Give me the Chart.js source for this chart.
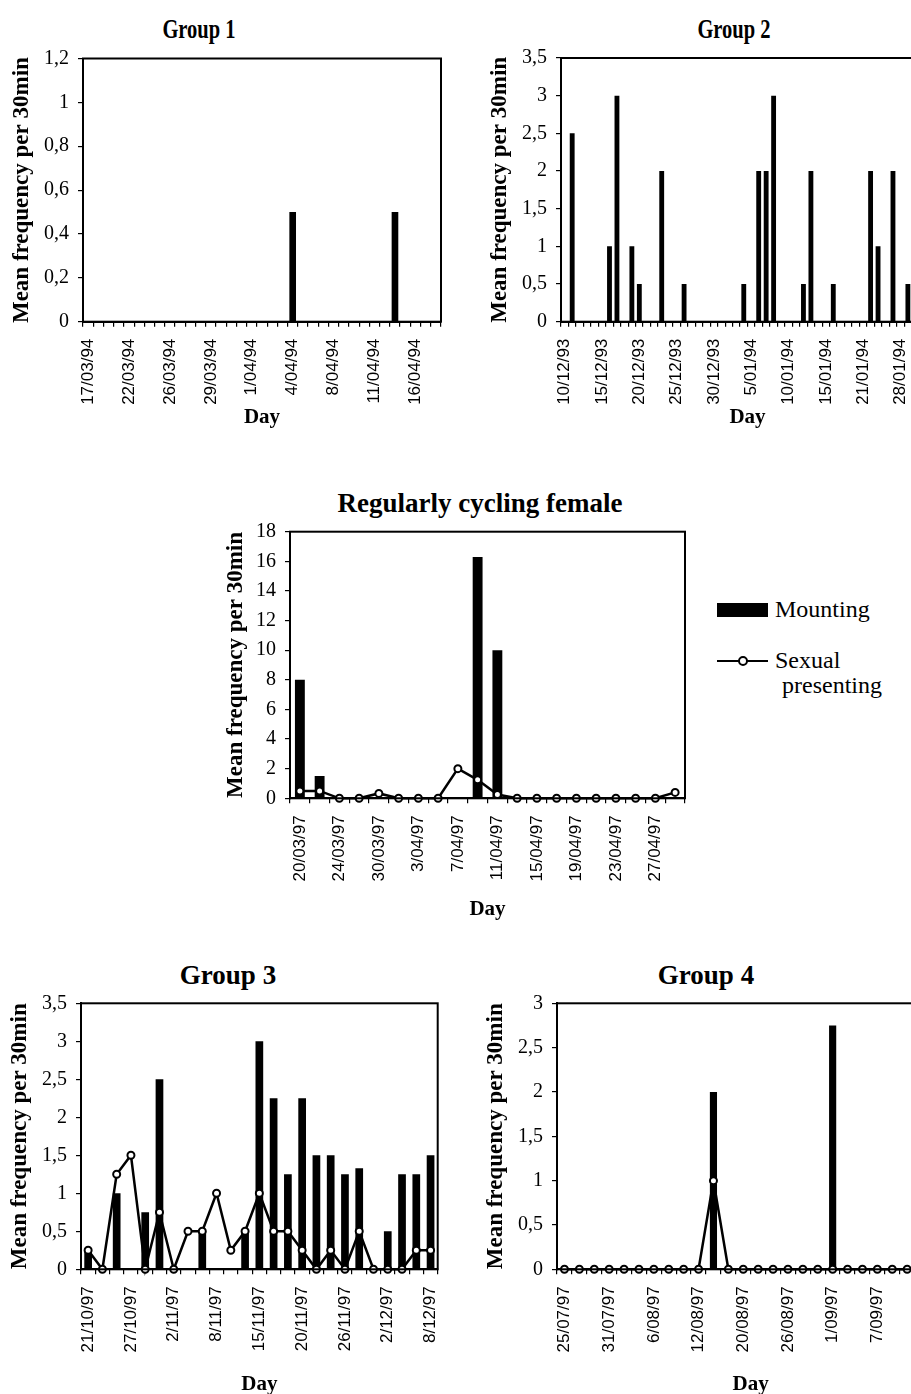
<!DOCTYPE html>
<html>
<head>
<meta charset="utf-8">
<title>Mounting and sexual presenting</title>
<script src="https://cdn.jsdelivr.net/npm/chart.js@4.4.0/dist/chart.umd.min.js"></script>
<style>
  html, body { margin: 0; padding: 0; overflow: hidden; background: #fff; }
  body { position: relative; width: 911px; height: 1394px; font-family: 'Liberation Serif', 'Times New Roman', serif; color: #000; }
  canvas { position: absolute; }
  .ttl { position: absolute; font-weight: bold; font-size: 27px; white-space: nowrap; transform: translate(-50%, -50%); }
  .ttl.narrow { transform: translate(-50%, -50%) scaleX(0.76); }
  .leg { position: absolute; font-size: 24px; white-space: nowrap; line-height: 25px; }
  .swatch { position: absolute; left: 717px; top: 603px; width: 51px; height: 14px; background: #000; }
  .lineKey { position: absolute; left: 717px; top: 660px; width: 51px; height: 0; border-top: 2.5px solid #000; }
  .lineKey i { position: absolute; left: 21px; top: -6.5px; width: 6px; height: 6px; border: 2px solid #000; border-radius: 50%; background: #fff; }
</style>
</head>
<body>

<div class="ttl narrow" style="left:199px; top:29px;">Group 1</div>
<div class="ttl narrow" style="left:734px; top:29px;">Group 2</div>
<div class="ttl" style="left:480px; top:503px;">Regularly cycling female</div>
<div class="ttl" style="left:228px; top:975px;">Group 3</div>
<div class="ttl" style="left:706px; top:975px;">Group 4</div>

<canvas id="g1" width="460" height="389" style="left:0px; top:45px;"></canvas>
<canvas id="g2" width="475" height="389" style="left:478px; top:45px;"></canvas>
<canvas id="rcf" width="485" height="408" style="left:215px; top:518px;"></canvas>
<canvas id="g3" width="459" height="411" style="left:-2px; top:990px;"></canvas>
<canvas id="g4" width="489" height="411" style="left:474px; top:990px;"></canvas>

<div class="swatch"></div>
<div class="leg" style="left:775px; top:597px;">Mounting</div>
<div class="lineKey"><i></i></div>
<div class="leg" style="left:775px; top:648px;">Sexual</div>
<div class="leg" style="left:782px; top:673px;">presenting</div>

<script>
const SERIF = "'Liberation Serif', 'Times New Roman', serif";
const SANS = "'Liberation Sans', Arial, sans-serif";

// Group 1 (mounting only), one value per observation session
const g1Ticks = ['17/03/94', '22/03/94', '26/03/94', '29/03/94', '1/04/94', '4/04/94', '8/04/94', '11/04/94', '16/04/94'];
const g1Mounting = [
    0, 0, 0, 0, 0, 0, 0, 0, 0, 0,
    0, 0, 0, 0, 0, 0, 0, 0, 0, 0,
    0.5, 0, 0, 0, 0, 0, 0, 0, 0, 0,
    0.5, 0, 0, 0, 0
];

// Group 2 (mounting only)
const g2Ticks = ['10/12/93', '15/12/93', '20/12/93', '25/12/93', '30/12/93', '5/01/94', '10/01/94', '15/01/94', '21/01/94', '28/01/94'];
const g2Mounting = [
    0, 2.5, 0, 0, 0, 0, 1, 3, 0, 1,
    0.5, 0, 0, 2, 0, 0, 0.5, 0, 0, 0,
    0, 0, 0, 0, 0.5, 0, 2, 2, 3, 0,
    0, 0, 0.5, 2, 0, 0, 0.5, 0, 0, 0,
    0, 2, 1, 0, 2, 0, 0.5, 0, 0, 0
];

// Regularly cycling female
const rcfTicks = ['20/03/97', '24/03/97', '30/03/97', '3/04/97', '7/04/97', '11/04/97', '15/04/97', '19/04/97', '23/04/97', '27/04/97'];
const rcfMounting = [8, 1.5, 0, 0, 0, 0, 0, 0, 0, 16.3, 10, 0, 0, 0, 0, 0, 0, 0, 0, 0];
const rcfPresenting = [0.5, 0.5, 0, 0, 0.33, 0, 0, 0, 2, 1.25, 0.25, 0, 0, 0, 0, 0, 0, 0, 0, 0.4];

// Group 3
const g3Ticks = ['21/10/97', '27/10/97', '2/11/97', '8/11/97', '15/11/97', '20/11/97', '26/11/97', '2/12/97', '8/12/97'];
const g3Mounting = [0.25, 0, 1, 0, 0.75, 2.5, 0, 0, 0.5, 0, 0, 0.5, 3, 2.25, 1.25, 2.25, 1.5, 1.5, 1.25, 1.33, 0, 0.5, 1.25, 1.25, 1.5];
const g3Presenting = [0.25, 0, 1.25, 1.5, 0, 0.75, 0, 0.5, 0.5, 1, 0.25, 0.5, 1, 0.5, 0.5, 0.25, 0, 0.25, 0, 0.5, 0, 0, 0, 0.25, 0.25];

// Group 4
const g4Ticks = ['25/07/97', '31/07/97', '6/08/97', '12/08/97', '20/08/97', '26/08/97', '1/09/97', '7/09/97'];
const g4Mounting = [0, 0, 0, 0, 0, 0, 0, 0, 0, 0, 2, 0, 0, 0, 0, 0, 0, 0, 2.75, 0, 0, 0, 0, 0, 0, 0];
const g4Presenting = [0, 0, 0, 0, 0, 0, 0, 0, 0, 0, 1, 0, 0, 0, 0, 0, 0, 0, 0, 0, 0, 0, 0, 0, 0, 0];


// only every n-th session carries a date on the axis
function spacedLabels(count, ticks, every) {
    return Array.from({ length: count }, (_, i) => {
        if (i % every !== 0) return '';
        return ticks[i / every] || '';
    });
}

function commaNum(v) {
    return (Math.round(v * 100) / 100).toString().replace('.', ',');
}

// black box round the plot area, like the Excel original
const frame = {
    id: 'frame',
    afterDatasetsDraw(chart) {
        const a = chart.chartArea;
        const ctx = chart.ctx;
        ctx.save();
        ctx.strokeStyle = '#000';
        ctx.lineWidth = 2;
        ctx.strokeRect(a.left, a.top, a.right - a.left, a.bottom - a.top);
        ctx.restore();
    }
};

function makeChart(id, cfg) {
    const datasets = [];
    if (cfg.presenting) {
        datasets.push({
            type: 'line',
            label: 'Sexual presenting',
            data: cfg.presenting,
            borderColor: '#000',
            borderWidth: 2.5,
            tension: 0,
            pointRadius: 3.5,
            pointBorderWidth: 2,
            pointBackgroundColor: '#fff',
            pointBorderColor: '#000',
            clip: false,
            order: 0
        });
    }
    datasets.push({
        type: 'bar',
        label: 'Mounting',
        data: cfg.mounting,
        backgroundColor: '#000',
        borderWidth: 0,
        categoryPercentage: 1,
        barPercentage: cfg.barPct,
        order: 1
    });

    return new Chart(document.getElementById(id), {
        type: 'bar',
        data: {
            labels: spacedLabels(cfg.mounting.length, cfg.ticks, cfg.every),
            datasets: datasets
        },
        options: {
            responsive: false,
            animation: false,
            layout: { padding: { top: cfg.padTop, right: cfg.padRight, left: 0, bottom: 0 } },
            plugins: {
                legend: { display: false },
                tooltip: { enabled: false }
            },
            scales: {
                x: {
                    grid: { drawOnChartArea: false, drawTicks: true, tickLength: 5, color: '#000', lineWidth: 1.2 },
                    border: { color: '#000', width: 2 },
                    ticks: {
                        autoSkip: false,
                        minRotation: 90,
                        maxRotation: 90,
                        padding: 12,
                        color: '#000',
                        font: { family: SANS, size: 17 }
                    },
                    title: {
                        display: true,
                        text: 'Day',
                        color: '#000',
                        font: { family: SERIF, size: 21, weight: 'bold' },
                        padding: { top: 0, bottom: 4 }
                    },
                    afterFit: (scale) => {
                        scale.height = cfg.xHeight;
                        scale.paddingLeft = 0;
                        scale.paddingRight = 0;
                    }
                },
                y: {
                    min: 0,
                    max: cfg.yMax,
                    grid: { drawOnChartArea: false, drawTicks: true, tickLength: 5, color: '#000', lineWidth: 1.2 },
                    border: { color: '#000', width: 2 },
                    ticks: {
                        stepSize: cfg.yStep,
                        padding: 9,
                        color: '#000',
                        font: { family: SERIF, size: 20 },
                        callback: (v) => commaNum(v)
                    },
                    title: {
                        display: true,
                        text: 'Mean frequency per 30min',
                        color: '#000',
                        font: { family: SERIF, size: 23, weight: 'bold' },
                        padding: { top: cfg.yTitlePad, bottom: 0 }
                    },
                    afterFit: (scale) => {
                        scale.width = cfg.yWidth;
                        scale.paddingTop = 0;
                        scale.paddingBottom = 0;
                    }
                }
            }
        },
        plugins: [frame]
    });
}

makeChart('g1', {
    ticks: g1Ticks, every: 4, mounting: g1Mounting,
    yMax: 1.2, yStep: 0.2, barPct: 0.65,
    padTop: 13.5, padRight: 19, xHeight: 112.3, yWidth: 83, yTitlePad: 8
});

makeChart('g2', {
    ticks: g2Ticks, every: 5, mounting: g2Mounting,
    yMax: 3.5, yStep: 0.5, barPct: 0.65,
    padTop: 13, padRight: 19, xHeight: 112.3, yWidth: 83, yTitlePad: 8
});

makeChart('rcf', {
    ticks: rcfTicks, every: 2, mounting: rcfMounting, presenting: rcfPresenting,
    yMax: 18, yStep: 2, barPct: 0.5,
    padTop: 13.7, padRight: 15, xHeight: 127.7, yWidth: 75, yTitlePad: 7
});

makeChart('g3', {
    ticks: g3Ticks, every: 3, mounting: g3Mounting, presenting: g3Presenting,
    yMax: 3.5, yStep: 0.5, barPct: 0.54,
    padTop: 13.3, padRight: 19.3, xHeight: 131.7, yWidth: 83, yTitlePad: 8
});

makeChart('g4', {
    ticks: g4Ticks, every: 3, mounting: g4Mounting, presenting: g4Presenting,
    yMax: 3, yStep: 0.5, barPct: 0.48,
    padTop: 13.3, padRight: 18.6, xHeight: 131.7, yWidth: 83, yTitlePad: 8
});
</script>
</body>
</html>
